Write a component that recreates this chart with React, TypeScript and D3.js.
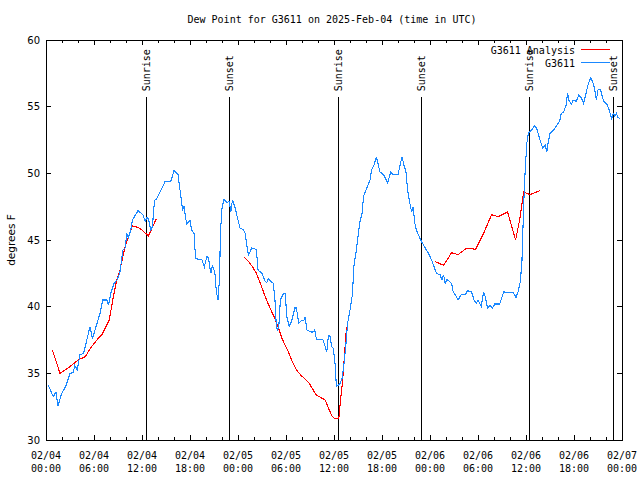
import React from "react";
import * as d3 from "d3";

// ---- Data (hours since 2025-02-04 00:00 UTC) ----
const obsHours = [0.3,0.9,1.25,1.5,1.96,2.25,2.5,3.0,3.4,3.6,3.9,4.25,4.7,5.1,5.5,5.8,6.3,6.75,7.1,7.6,7.8,8.1,8.5,8.9,9.25,9.6,9.9,10.1,10.3,10.6,10.8,11.5,12.1,12.4,12.6,12.8,13.1,13.3,13.5,13.6,13.8,14.25,14.9,15.6,16.0,16.5,16.75,17.0,17.1,17.25,17.5,17.6,18.0,18.2,18.5,18.7,19.5,19.8,20.1,20.3,20.6,20.8,21.1,21.3,21.5,21.7,21.8,22.0,22.25,22.6,22.9,23.1,23.3,23.6,23.9,24.25,24.7,24.9,25.1,25.3,25.5,25.7,26.3,26.5,27.0,27.4,27.6,27.8,28.1,28.4,28.6,28.75,28.9,29.1,29.3,29.7,29.9,30.1,30.4,30.7,31.1,31.3,31.6,31.9,32.25,32.4,32.6,33.1,33.4,33.6,33.8,34.6,34.9,35.1,35.3,35.5,35.7,35.9,36.1,36.3,36.5,36.75,37.0,37.2,37.5,37.7,38.0,38.3,38.5,38.8,39.2,39.5,39.7,40.1,40.5,40.7,41.0,41.3,41.75,42.2,42.7,43.1,43.4,44.0,44.5,44.75,45.0,45.2,45.4,45.7,45.9,46.1,46.3,46.75,47.2,47.8,48.2,48.8,49.25,49.5,49.7,49.9,50.1,50.7,50.9,51.3,51.5,51.9,52.4,52.7,53.2,53.5,53.8,54.0,54.4,54.7,54.9,55.2,55.5,55.8,56.1,56.7,57.2,58.4,58.75,59.0,59.3,59.5,59.7,59.9,60.1,60.3,60.7,61.1,61.4,61.75,62.1,62.4,62.6,62.8,63.0,63.2,63.5,63.8,64.2,64.4,64.7,65.0,65.2,65.4,65.7,65.9,66.3,66.6,66.96,67.2,67.5,67.8,68.1,68.4,68.6,68.8,69.0,69.3,69.6,69.75,70.1,70.4,70.7,70.9,71.1,71.3,71.5,71.75];
const obsValues = [34.1,33.25,33.6,32.55,33.5,33.8,34.1,35.0,35.05,35.6,35.25,36.4,36.5,37.5,38.5,37.6,38.6,39.5,40.5,40.5,40.1,41.0,41.75,42.0,42.6,44.25,44.4,45.5,45.2,45.75,46.5,47.2,46.9,46.4,46.7,46.6,45.75,46.0,47.5,48.0,48.05,48.6,49.4,49.4,50.2,49.9,48.75,47.6,47.3,47.55,46.5,46.2,46.45,45.75,45.5,43.6,43.5,43.0,43.75,43.7,42.5,43.05,42.6,41.1,40.5,42.25,45.5,47.4,48.05,47.8,47.9,47.1,48.0,47.5,46.75,45.9,45.75,45.5,44.6,43.9,44.1,44.4,44.3,42.75,42.5,41.9,41.8,42.1,41.9,41.75,40.75,39.0,38.25,38.5,40.5,41.0,41.0,39.25,38.55,38.9,39.9,39.9,38.75,38.95,39.0,39.25,38.25,38.1,38.1,38.25,37.55,37.55,37.0,36.6,37.8,37.8,37.0,36.9,36.0,34.0,34.1,34.25,34.6,35.45,37.25,38.75,39.75,40.9,43.1,44.25,46.25,47.0,48.3,48.9,49.5,50.25,50.6,51.25,50.1,49.9,49.3,50.1,49.9,49.9,51.25,50.6,50.1,48.75,48.0,47.1,47.5,46.25,45.75,45.1,44.6,44.0,43.5,42.5,42.4,42.0,42.4,41.75,42.05,41.75,41.1,40.75,40.5,40.9,40.9,41.2,41.1,40.5,40.25,40.5,40.0,41.1,40.75,39.9,40.1,39.9,40.2,40.2,41.1,41.05,40.7,41.1,41.9,43.5,47.5,50.25,52.25,53.0,53.25,53.6,53.25,52.5,51.9,52.1,51.6,52.4,53.0,53.1,53.3,53.55,53.9,54.5,54.6,55.1,56.0,55.4,55.2,55.5,55.4,55.9,55.6,55.25,56.0,56.75,57.2,56.75,56.25,55.5,56.25,56.3,55.6,55.4,55.2,54.75,54.1,54.5,54.3,54.5,54.2,54.1];

// Analysis: null marks a gap between segments
const anaHours = [0.8,1.75,2.4,3.2,4.0,4.9,5.7,6.5,7.0,7.4,7.9,8.2,8.5,8.8,9.25,9.6,10.0,10.4,10.8,11.5,12.0,12.8,13.8,
  18,
  24.8,25.3,25.8,26.3,26.8,27.4,28.0,28.5,29.0,29.5,30.2,30.7,31.3,31.8,32.4,32.9,33.75,34.3,34.9,35.4,35.8,36.1,36.6,36.8,37.1,37.3,37.5,37.7,
  43,
  48.6,49.7,50.7,51.5,52.6,53.7,54.7,55.7,56.5,57.7,58.7,59.2,59.7,60.5,61.75];
const anaValues = [36.75,35.0,35.25,35.6,36.0,36.25,37.0,37.6,37.9,38.4,39.0,40.0,41.0,41.9,42.75,43.75,44.75,45.4,46.05,45.95,45.75,45.3,46.6,
  null,
  43.7,43.4,43.0,42.5,41.75,40.75,39.9,39.25,38.5,37.6,36.75,36.0,35.25,34.9,34.55,34.25,33.4,33.2,33.0,32.25,31.75,31.6,31.6,32.9,34.6,36.25,38.0,38.75,
  null,
  43.4,43.1,44.05,43.9,44.4,44.3,45.5,46.9,46.75,47.1,45.0,46.5,48.6,48.4,48.7];

const sunHours = [12.54, 22.9, 36.54, 46.9, 60.42, 70.92];
const sunLabels = ["Sunrise", "Sunset", "Sunrise", "Sunset", "Sunrise", "Sunset"];

const yTicks = [30, 35, 40, 45, 50, 55, 60];
const xMajorTicks = [0, 6, 12, 18, 24, 30, 36, 42, 48, 54, 60, 66, 72];
const xMinorTicks = d3.range(0, 73, 2);

const seriesNames = ["G3611 Analysis", "G3611"];
const seriesColors = ["#ff0000", "#1a88ff"];

const title = "Dew Point for G3611 on 2025-Feb-04 (time in UTC)";
const yLabel = "degrees F";

const W = 640, H = 480;
const L = 46, R = 622, T = 40, B = 440;
const MONO = "'DejaVu Sans Mono', monospace";
const SANS = "'DejaVu Sans', sans-serif";

function pad(n: number) { return n < 10 ? "0" + n : "" + n; }

export default function App() {
  const x = d3.scaleLinear().domain([0, 72]).range([L, R]);
  const y = d3.scaleLinear().domain([30, 60]).range([B, T]);

  const obs = obsHours.map((h, i) => [h, obsValues[i]] as [number, number | null]);
  const ana = anaHours.map((h, i) => [h, anaValues[i]] as [number, number | null]);

  const line = d3.line<[number, number | null]>()
    .defined((d) => d[1] !== null)
    .x((d) => x(d[0]))
    .y((d) => y(d[1] as number));

  const sunTop = y(55.7);

  return (
    <div style={{ position: "fixed", left: 0, top: 0 }}>
      <svg width={W} height={H} style={{ display: "block", background: "#fff" }}>
        <rect x={0} y={0} width={W} height={H} fill="#fff" />
        <text x={332} y={23} fontFamily={MONO} fontSize={10} textAnchor="middle" fill="#000">{title}</text>

        {/* ticks */}
        <g stroke="#000" strokeWidth={1} shapeRendering="crispEdges">
          {xMinorTicks.map((t) => (
            <g key={"m" + t}>
              <line x1={x(t)} x2={x(t)} y1={B} y2={B - 3} />
              <line x1={x(t)} x2={x(t)} y1={T} y2={T + 3} />
            </g>
          ))}
          {xMajorTicks.map((t) => (
            <g key={"M" + t}>
              <line x1={x(t)} x2={x(t)} y1={B} y2={B - 5} />
              <line x1={x(t)} x2={x(t)} y1={T} y2={T + 5} />
            </g>
          ))}
          {yTicks.map((v) => (
            <g key={"y" + v}>
              <line x1={L} x2={L + 5} y1={y(v)} y2={y(v)} />
              <line x1={R} x2={R - 5} y1={y(v)} y2={y(v)} />
            </g>
          ))}
        </g>

        {/* x tick labels */}
        {xMajorTicks.map((t) => {
          const day = 4 + Math.floor(t / 24);
          const hr = t % 24;
          return (
            <text key={"xl" + t} x={x(t)} fontFamily={MONO} fontSize={10} textAnchor="middle" fill="#000">
              <tspan x={x(t)} y={458.5}>{"02/" + pad(day)}</tspan>
              <tspan x={x(t)} y={471.5}>{pad(hr) + ":00"}</tspan>
            </text>
          );
        })}

        {/* y tick labels */}
        {yTicks.map((v) => (
          <text key={"yl" + v} x={40} y={y(v)} dy="0.36em" fontFamily={SANS} fontSize={10} textAnchor="end" fill="#000">{v}</text>
        ))}
        <text transform={`translate(11,${(T + B) / 2}) rotate(-90)`} fontFamily={SANS} fontSize={10.5} textAnchor="middle" dy="0.35em" fill="#000">{yLabel}</text>

        {/* sunrise / sunset */}
        {sunHours.map((h, i) => (
          <g key={"s" + i}>
            <line x1={x(h)} x2={x(h)} y1={sunTop} y2={B} stroke="#000" strokeWidth={1} shapeRendering="crispEdges" />
            <text transform={`translate(${x(h)},${sunTop - 6}) rotate(-90)`} fontFamily={MONO} fontSize={10} textAnchor="start" dy="0.35em" fill="#000">{sunLabels[i]}</text>
          </g>
        ))}

        {/* series */}
        <path d={line(ana) || ""} fill="none" stroke={seriesColors[0]} strokeWidth={1.1} shapeRendering="crispEdges" />
        <path d={line(obs) || ""} fill="none" stroke={seriesColors[1]} strokeWidth={1.1} shapeRendering="crispEdges" />

        {/* legend */}
        {seriesNames.map((n, i) => (
          <g key={"lg" + i}>
            <text x={575} y={50 + i * 13} dy="0.35em" fontFamily={MONO} fontSize={10} textAnchor="end" fill="#000">{n}</text>
            <line x1={581} x2={610} y1={49.5 + i * 13} y2={49.5 + i * 13} stroke={seriesColors[i]} strokeWidth={1} />
          </g>
        ))}

        {/* border */}
        <rect x={L} y={T} width={R - L} height={B - T} fill="none" stroke="#000" strokeWidth={1} shapeRendering="crispEdges" />
      </svg>
    </div>
  );
}
